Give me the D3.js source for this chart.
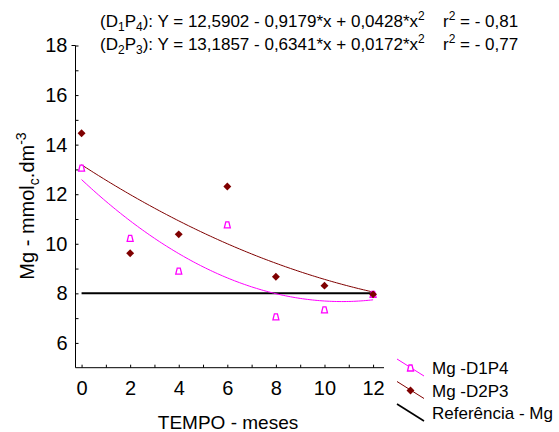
<!DOCTYPE html>
<html>
<head>
<meta charset="utf-8">
<script src="https://cdn.jsdelivr.net/npm/d3@7"></script>
<style>
  body { margin: 0; background: #fff; }
  text { font-family: "Liberation Sans", Arial, sans-serif; fill: #000; }
</style>
</head>
<body>
<svg id="chart" width="559" height="432"></svg>
<script>
// data
const months = [0, 2, 4, 6, 8, 10, 12]
const mgD1P4 = [13.05, 10.22, 8.9, 10.76, 7.05, 7.33, 7.96]
const mgD2P3 = [14.46, 9.62, 10.38, 12.31, 8.67, 8.31, 7.96]
const referenceMg = 8
// regression coefficients printed on the chart: a + b*x + c*x^2
const fitD1P4 = [12.5902, -0.9179, 0.0428]
const fitD2P3 = [13.1857, -0.6341, 0.0172]
const xTicks = [0, 2, 4, 6, 8, 10, 12]
const yTicks = [6, 8, 10, 12, 14, 16, 18]

const magenta = "#ff00ff"
const darkRed = "#7f0000"

const svg = d3.select("#chart")

const x = d3.scaleLinear().domain([-0.25, 12.45]).range([75.5, 384])
const y = d3.scaleLinear().domain([5, 18]).range([367.7, 45.5])

// axes (ticks pointing inward)
const xAxis = svg.append("g").attr("transform", "translate(0,367.7)")
    .call(d3.axisBottom(x).tickValues(d3.range(0, 13)).tickSize(-3).tickFormat(d => xTicks.includes(d) ? d : ""))
xAxis.select(".domain").attr("d", "M75.5,0H384")
xAxis.selectAll("text").attr("y", 13).attr("font-size", 20).style("font-family", "Liberation Sans, Arial, sans-serif")

const yAxis = svg.append("g").attr("transform", "translate(75.5,0)")
    .call(d3.axisLeft(y).tickValues(d3.range(6, 19)).tickSize(-3).tickFormat(d => yTicks.includes(d) ? d : ""))
yAxis.select(".domain").attr("d", "M-4,45.5H0V367.7")
yAxis.selectAll("text").attr("x", -8).attr("font-size", 20).style("font-family", "Liberation Sans, Arial, sans-serif")
svg.selectAll(".tick line").attr("stroke", "#000")
svg.selectAll(".domain").attr("stroke", "#000")

// reference line
svg.append("line")
    .attr("x1", x(0)).attr("x2", x(12))
    .attr("y1", y(referenceMg)).attr("y2", y(referenceMg))
    .attr("stroke", "#000").attr("stroke-width", 2)

// fitted curves
function quad(c) { return t => c[0] + c[1] * t + c[2] * t * t }
const xs = d3.range(0, 12.01, 0.1)
const curve = d3.line().x(d => x(d[0])).y(d => y(d[1]))
const f1 = quad(fitD1P4), f2 = quad(fitD2P3)
svg.append("path").attr("d", curve(xs.map(t => [t, f2(t)])))
    .attr("fill", "none").attr("stroke", darkRed).attr("stroke-width", 1)
svg.append("path").attr("d", curve(xs.map(t => [t, f1(t)])))
    .attr("fill", "none").attr("stroke", magenta).attr("stroke-width", 1)

// markers
const tri = "M-3,3L-1.5,-3H1.5L3,3Z"
const diamond = d3.symbol().type(d3.symbolDiamond2).size(40)()
svg.append("g").selectAll("path").data(months).join("path")
    .attr("transform", (d, i) => `translate(${x(d)},${y(mgD1P4[i])})`)
    .attr("d", tri).attr("fill", "#fff").attr("stroke", magenta).attr("stroke-width", 1.3)
svg.append("g").selectAll("path").data(months).join("path")
    .attr("transform", (d, i) => `translate(${x(d)},${y(mgD2P3[i])})`)
    .attr("d", diamond).attr("fill", darkRed)

// axis titles
svg.append("text").attr("x", 228).attr("y", 429).attr("text-anchor", "middle")
    .attr("font-size", 19).text("TEMPO - meses")
const yt = svg.append("text").attr("transform", "translate(34,206) rotate(-90)")
    .attr("text-anchor", "middle").attr("font-size", 20)
yt.append("tspan").text("Mg - mmol")
yt.append("tspan").attr("font-size", 14).attr("dy", 5).text("c")
yt.append("tspan").attr("dy", -5).text(".dm")
yt.append("tspan").attr("font-size", 14).attr("dy", -8).text("-3")

// equations
function equation(yy, d, p, eq, r2) {
    const t = svg.append("text").attr("x", 100).attr("y", yy).attr("font-size", 17)
    t.append("tspan").text("(D")
    t.append("tspan").attr("font-size", 12).attr("dy", 4).text(d)
    t.append("tspan").attr("dy", -4).text("P")
    t.append("tspan").attr("font-size", 12).attr("dy", 4).text(p)
    t.append("tspan").attr("dy", -4).text("): Y = " + eq + "*x")
    t.append("tspan").attr("font-size", 12).attr("dy", -7).text("2")
    const r = svg.append("text").attr("x", 443).attr("y", yy).attr("font-size", 17)
    r.append("tspan").text("r")
    r.append("tspan").attr("font-size", 12).attr("dy", -7).text("2")
    r.append("tspan").attr("dy", 7).text(" = - " + r2)
}
equation(27, "1", "4", "12,5902 - 0,9179*x + 0,0428", "0,81")
equation(50, "2", "3", "13,1857 - 0,6341*x + 0,0172", "0,77")

// legend
const legend = [
    { label: "Mg -D1P4", color: magenta, mark: "tri", y: 368 },
    { label: "Mg -D2P3", color: darkRed, mark: "diamond", y: 390.5 },
    { label: "Referência - Mg", color: "#000", mark: null, y: 413 }
]
legend.forEach(l => {
    svg.append("line").attr("x1", 397).attr("y1", l.y - 9).attr("x2", 424).attr("y2", l.y + 8)
        .attr("stroke", l.color).attr("stroke-width", l.mark ? 1 : 1.6)
    if (l.mark == "tri") svg.append("path").attr("transform", `translate(410.5,${l.y})`)
        .attr("d", tri).attr("fill", "#fff").attr("stroke", magenta).attr("stroke-width", 1.3)
    if (l.mark == "diamond") svg.append("path").attr("transform", `translate(410.5,${l.y})`)
        .attr("d", diamond).attr("fill", darkRed)
    svg.append("text").attr("x", 432).attr("y", l.y + 6).attr("font-size", 17).text(l.label)
})
</script>
</body>
</html>
